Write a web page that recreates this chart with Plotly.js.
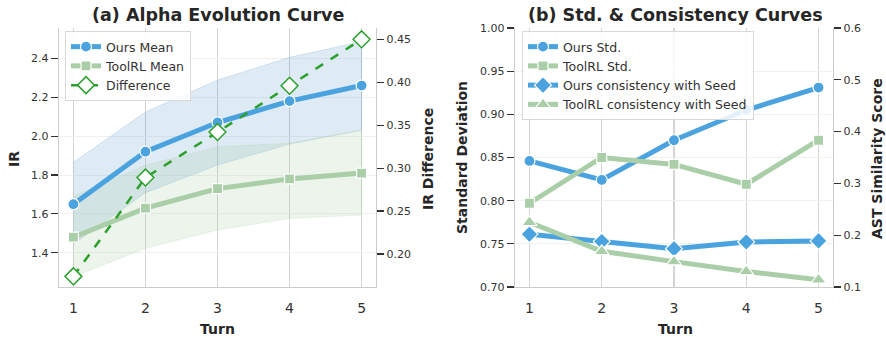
<!DOCTYPE html>
<html>
<head>
<meta charset="utf-8">
<script src="https://cdn.plot.ly/plotly-3.0.1.min.js"></script>
<style>html,body{margin:0;padding:0;background:#fff;}#chart{width:886px;height:337px;}</style>
</head>
<body>
<div id="chart"></div>
<script>
// ---- data ----
const turns = [1, 2, 3, 4, 5];
const oursMean = [1.65, 1.92, 2.07, 2.18, 2.26];
const oursUpper = [1.865, 2.124, 2.288, 2.405, 2.486];
const oursLower = [1.445, 1.709, 1.851, 1.959, 2.031];
const toolMean = [1.48, 1.63, 1.73, 1.78, 1.81];
const toolUpper = [1.69, 1.85, 1.945, 1.963, 2.031];
const toolLower = [1.277, 1.423, 1.517, 1.577, 1.594];
const irDiff = [0.174, 0.289, 0.342, 0.396, 0.450];

const oursStd = [0.846, 0.824, 0.870, 0.905, 0.931];
const toolStd = [0.797, 0.850, 0.842, 0.819, 0.870];
const oursCons = [0.202, 0.188, 0.174, 0.187, 0.189];
const toolCons = [0.225, 0.169, 0.149, 0.130, 0.114];

const BLUE = '#4aa3df';
const LGREEN = '#aacfa8';
const DGREEN = '#2ca02c';
const FONT = 'DejaVu Sans, sans-serif';

function band(x, up, lo) {
  return { x: x.concat(x.slice().reverse()), y: up.concat(lo.slice().reverse()) };
}
const ob = band(turns, oursUpper, oursLower);
const tb = band(turns, toolUpper, toolLower);

const traces = [
  {x: ob.x, y: ob.y, fill: 'toself', fillcolor: 'rgba(90,150,200,0.2)', line: {width: 0.8, color: 'rgba(90,150,200,0.25)'},
   mode: 'lines', showlegend: false, hoverinfo: 'skip', xaxis: 'x', yaxis: 'y'},
  {x: tb.x, y: tb.y, fill: 'toself', fillcolor: 'rgba(170,207,168,0.22)', line: {width: 0.8, color: 'rgba(170,207,168,0.3)'},
   mode: 'lines', showlegend: false, hoverinfo: 'skip', xaxis: 'x', yaxis: 'y'},
  {x: turns, y: oursMean, name: 'Ours Mean', mode: 'lines+markers', xaxis: 'x', yaxis: 'y',
   line: {color: BLUE, width: 5}, marker: {symbol: 'circle', size: 11, color: BLUE, line: {color: '#fff', width: 1.2}}},
  {x: turns, y: toolMean, name: 'ToolRL Mean', mode: 'lines+markers', xaxis: 'x', yaxis: 'y',
   line: {color: LGREEN, width: 5}, marker: {symbol: 'square', size: 10, color: LGREEN, line: {color: '#fff', width: 1.2}}},
  {x: turns, y: irDiff, name: 'Difference', mode: 'lines+markers', xaxis: 'x', yaxis: 'y2',
   line: {color: DGREEN, width: 2.5, dash: 'dash'}, marker: {symbol: 'diamond', size: 13, color: '#fff', line: {color: DGREEN, width: 1.5}}},

  {x: turns, y: oursStd, name: 'Ours Std.', mode: 'lines+markers', xaxis: 'x2', yaxis: 'y3', legend: 'legend2',
   line: {color: BLUE, width: 5}, marker: {symbol: 'circle', size: 11, color: BLUE, line: {color: '#fff', width: 1.2}}},
  {x: turns, y: toolStd, name: 'ToolRL Std.', mode: 'lines+markers', xaxis: 'x2', yaxis: 'y3', legend: 'legend2',
   line: {color: LGREEN, width: 5}, marker: {symbol: 'square', size: 10, color: LGREEN, line: {color: '#fff', width: 1.2}}},
  {x: turns, y: oursCons, name: 'Ours consistency with Seed', mode: 'lines+markers', xaxis: 'x2', yaxis: 'y4', legend: 'legend2',
   line: {color: BLUE, width: 5}, marker: {symbol: 'diamond', size: 13, color: BLUE, line: {color: '#fff', width: 1.2}}},
  {x: turns, y: toolCons, name: 'ToolRL consistency with Seed', mode: 'lines+markers', xaxis: 'x2', yaxis: 'y4', legend: 'legend2',
   line: {color: LGREEN, width: 5}, marker: {symbol: 'triangle-up', size: 13, color: LGREEN, line: {color: '#fff', width: 1.2}}}
];

const yDom = [1 - 287 / 337, 1 - 28 / 337];
const xDomA = [59 / 886, 376 / 886];
const xDomB = [515 / 886, 833 / 886];

function xax(dom, anchor) {
  return {domain: dom, anchor: anchor, range: [0.8, 5.2], tickvals: turns, ticks: 'outside', ticklen: 8,
    tickcolor: 'rgba(0,0,0,0)', showgrid: true, gridcolor: '#d4d4d4', gridwidth: 1.5, zeroline: false,
    showline: true, linecolor: '#cccccc', linewidth: 1.3, tickfont: {size: 14, color: '#333', family: FONT}};
}
function yax(anchor, range, vals, fmt, side, overlay, grid) {
  const a = {anchor: anchor, domain: yDom, range: range, tickvals: vals, tickformat: fmt, side: side,
    ticks: 'outside', ticklen: 7, tickwidth: 1.2, tickcolor: '#333', showgrid: grid, gridcolor: '#f0f0f0', gridwidth: 1,
    zeroline: false, showline: true, linecolor: '#cccccc', linewidth: 1.3,
    tickfont: {size: 11, color: '#333', family: FONT}};
  if (overlay) a.overlaying = overlay;
  return a;
}

const tickA = [1.4, 1.6, 1.8, 2.0, 2.2, 2.4];
const tickA2 = [0.20, 0.25, 0.30, 0.35, 0.40, 0.45];
const tickB = [0.70, 0.75, 0.80, 0.85, 0.90, 0.95, 1.00];
const tickB2 = [0.1, 0.2, 0.3, 0.4, 0.5, 0.6];

function ann(text, x, y, size, angle) {
  return {text: '<b>' + text + '</b>', x: x / 886, y: 1 - y / 337, xref: 'paper', yref: 'paper',
    xanchor: 'center', yanchor: 'middle', showarrow: false, textangle: angle || 0,
    font: {family: FONT, size: size, color: '#262626'}};
}

function leg(x) {
  return {x: x / 886, y: 1 - 31 / 337, xanchor: 'left', yanchor: 'top', bgcolor: 'rgba(255,255,255,0.85)',
    bordercolor: '#d8d8d8', borderwidth: 1, itemwidth: 30, font: {size: 12.5, color: '#333', family: FONT}, tracegroupgap: 0};
}

const layout = {
  width: 886, height: 337, margin: {l: 0, r: 0, t: 0, b: 0},
  paper_bgcolor: '#fff', plot_bgcolor: '#fff', font: {family: FONT},
  xaxis: xax(xDomA, 'y'),
  yaxis: yax('x', [1.224, 2.556], tickA, '.1f', 'left', null, true),
  yaxis2: yax('x', [0.1616, 0.4632], tickA2, '.2f', 'right', 'y', false),
  xaxis2: xax(xDomB, 'y3'),
  yaxis3: yax('x2', [0.70, 1.00], tickB, '.2f', 'left', null, true),
  yaxis4: yax('x2', [0.1, 0.6], tickB2, '.1f', 'right', 'y3', false),
  legend: leg(65),
  legend2: leg(522),
  annotations: [
    ann('(a) Alpha Evolution Curve', 217.5, 15, 17.5),
    ann('(b) Std. &amp; Consistency Curves', 675, 15, 17.5),
    ann('IR', 14, 159, 14, -90),
    ann('IR Difference', 428, 159, 14, -90),
    ann('Turn', 217, 329, 14),
    ann('Turn', 675, 329, 14),
    ann('Standard Deviation', 462, 158, 14, -90),
    ann('AST Similarity Score', 877, 159, 14, -90)
  ]
};

Plotly.newPlot('chart', traces, layout, {displayModeBar: false, staticPlot: true});
</script>
</body>
</html>
